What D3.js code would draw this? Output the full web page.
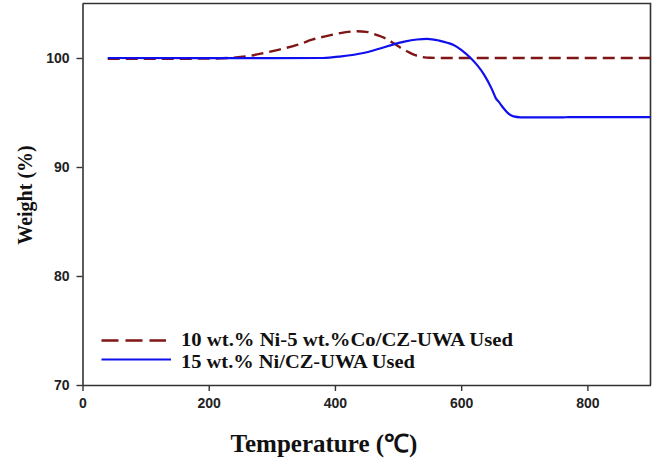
<!DOCTYPE html>
<html>
<head>
<meta charset="utf-8">
<script src="https://cdn.jsdelivr.net/npm/d3@7"></script>
<style>
  html, body { margin: 0; padding: 0; background: #fff; }
  svg { display: block; }
</style>
</head>
<body>
<svg id="chart" width="659" height="459"></svg>
<script>
// TGA curves of the used catalysts: temperature (°C) vs. weight (%)
const coTemp   = [40, 100, 200, 235, 260, 287, 310, 340, 365, 393, 415, 435, 450, 467, 480, 493, 505, 515, 525, 536, 551, 580, 700, 900];
const coWeight = [99.92, 99.92, 99.95, 100.02, 100.15, 100.45, 100.75, 101.2, 101.7, 102.1, 102.35, 102.45, 102.4, 102.1, 101.8, 101.35, 100.9, 100.6, 100.3, 100.12, 100.02, 100, 100, 100];

const niTemp   = [40, 200, 300, 381, 410, 445, 470, 493, 510, 530, 546, 565, 578, 588, 600, 615, 626, 636, 649, 655, 660, 665, 670, 676, 683, 694, 720, 760, 770, 900];
const niWeight = [100, 99.98, 99.98, 100, 100.15, 100.46, 100.85, 101.25, 101.5, 101.7, 101.76, 101.6, 101.4, 101.2, 100.75, 100, 99.3, 98.5, 97.1, 96.3, 95.95, 95.55, 95.2, 94.85, 94.64, 94.56, 94.55, 94.55, 94.58, 94.58];

const seriesNames = ["10 wt.% Ni-5 wt.%Co/CZ-UWA Used", "15 wt.% Ni/CZ-UWA Used"];
const xTicks = [0, 200, 400, 600, 800];
const yTicks = [70, 80, 90, 100];
const xTitle = "Temperature (\u2103)";
const yTitle = "Weight (%)";

const svg = d3.select("#chart");
const plotLeft = 82.5, plotRight = 650.5, plotTop = 3.5, plotBottom = 385;

const x = d3.scaleLinear().domain([0, 900]).range([plotLeft, plotRight]);
const y = d3.scaleLinear().domain([70, 105]).range([plotBottom, plotTop]);

// frame (top and right edges)
svg.append("path")
  .attr("d", `M${plotLeft},${plotTop}H${plotRight}V${plotBottom}`)
  .attr("fill", "none").attr("stroke", "#333").attr("stroke-width", 1.6);

const tickFont = "'Liberation Sans', Arial, sans-serif";

const xAxis = svg.append("g").attr("transform", `translate(0,${plotBottom})`)
  .call(d3.axisBottom(x).tickValues(xTicks).tickSize(6).tickPadding(7).tickSizeOuter(0));
const yAxis = svg.append("g").attr("transform", `translate(${plotLeft},0)`)
  .call(d3.axisLeft(y).tickValues(yTicks).tickSize(6).tickPadding(7).tickSizeOuter(0));

[xAxis, yAxis].forEach(a => {
  a.select(".domain").attr("stroke", "#333").attr("stroke-width", 1.6);
  a.selectAll(".tick line").attr("stroke", "#333").attr("stroke-width", 1.4);
  a.selectAll(".tick text")
    .attr("fill", "#222")
    .style("font-family", tickFont)
    .style("font-weight", "bold")
    .style("font-size", "14px");
});

// curves
const line = d3.line().x(d => x(d[0])).y(d => y(d[1])).curve(d3.curveMonotoneX);
const coData = coTemp.map((t, i) => [t, coWeight[i]]);
const niData = niTemp.map((t, i) => [t, niWeight[i]]);

svg.append("path").datum(coData)
  .attr("d", line).attr("fill", "none")
  .attr("stroke", "#7f1515").attr("stroke-width", 2.4)
  .attr("stroke-dasharray", "12,6");

svg.append("path").datum(niData)
  .attr("d", line).attr("fill", "none")
  .attr("stroke", "#1010ee").attr("stroke-width", 2.2);

// legend (text is set wide, so it is stretched to a fixed length)
const serif = "'Liberation Serif', 'Times New Roman', serif";
const legend = svg.append("g");
const legendRows = [
  { name: seriesNames[0], color: "#7f1515", dash: "17,7", lineY: 340.5, textY: 345.5, len: 332 },
  { name: seriesNames[1], color: "#1010ee", dash: null, lineY: 359.5, textY: 368, len: 234 }
];
legendRows.forEach(r => {
  legend.append("line")
    .attr("x1", 101.5).attr("x2", r.dash ? 166 : 171)
    .attr("y1", r.lineY).attr("y2", r.lineY)
    .attr("stroke", r.color).attr("stroke-width", r.dash ? 2.4 : 2.2)
    .attr("stroke-dasharray", r.dash);
  legend.append("text")
    .attr("x", 181).attr("y", r.textY)
    .attr("fill", "#111")
    .attr("textLength", r.len).attr("lengthAdjust", "spacingAndGlyphs")
    .style("font-family", serif).style("font-weight", "bold").style("font-size", "18px")
    .text(r.name);
});

// axis titles
svg.append("text")
  .attr("x", 324).attr("y", 451.5)
  .attr("text-anchor", "middle").attr("fill", "#111")
  .style("font-family", serif).style("font-weight", "bold").style("font-size", "25px")
  .text(xTitle);

svg.append("text")
  .attr("transform", "translate(32,195) rotate(-90)")
  .attr("text-anchor", "middle").attr("fill", "#111")
  .style("font-family", serif).style("font-weight", "bold").style("font-size", "20px")
  .text(yTitle);
</script>
</body>
</html>
